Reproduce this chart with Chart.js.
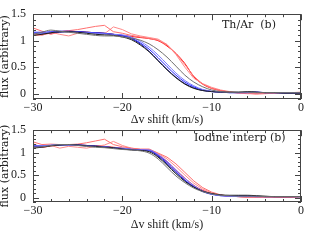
<!DOCTYPE html>
<html>
<head>
<meta charset="utf-8">
<script src="https://cdn.jsdelivr.net/npm/chart.js@4/dist/chart.umd.min.js"></script>
<style>
  html, body { margin: 0; padding: 0; background: #fff; }
  #wrap { position: relative; width: 320px; height: 240px; overflow: hidden; }
  canvas { position: absolute; left: 0; }
  #c1 { top: 0; }
  #c2 { top: 116px; }
</style>
</head>
<body>
<div id="wrap">
  <canvas id="c1" width="320" height="128"></canvas>
  <canvas id="c2" width="320" height="124"></canvas>
</div>
<script>
// velocity grid (km/s)
const velocity = [-30,-29,-28,-27,-26,-25,-24,-23,-22,-21,-20,-19,-18,-17,-16,-15,-14,-13,-12,-11,-10,-9,-8,-7,-6,-5,-4,-3,-2,-1,0];
const xTicks = [-30, -20, -10, 0];
const yTicks = [0, 0.5, 1, 1.5];

// PANEL 1 : Th/Ar
const thArGray     = [1.12,1.16,1.20,1.18,1.16,1.14,1.12,1.10,1.09,1.09,1.07,1.05,1.01,0.94,0.83,0.69,0.52,0.35,0.22,0.13,0.07,0.04,0.03,0.03,0.03,0.02,0.02,0.02,0.02,0.02,0.02];
const thArBlack    = [1.10,1.12,1.15,1.17,1.17,1.16,1.14,1.12,1.11,1.10,1.07,1.02,0.92,0.79,0.62,0.45,0.30,0.18,0.10,0.06,0.04,0.03,0.03,0.03,0.04,0.03,0.02,0.02,0.01,0.01,0.01];
const thArNavy     = [1.14,1.14,1.15,1.16,1.17,1.17,1.16,1.15,1.14,1.12,1.09,1.04,0.94,0.80,0.63,0.46,0.31,0.19,0.11,0.06,0.04,0.03,0.02,0.02,0.03,0.03,0.02,0.02,0.02,0.02,0.02];
const thArBlue     = [1.16,1.16,1.17,1.18,1.18,1.17,1.16,1.15,1.14,1.12,1.10,1.05,0.96,0.84,0.68,0.51,0.35,0.22,0.13,0.07,0.04,0.03,0.02,0.02,0.02,0.03,0.02,0.02,0.01,0.01,0.01];
const thArSky      = [1.13,1.14,1.16,1.17,1.17,1.16,1.15,1.14,1.13,1.12,1.11,1.07,0.99,0.88,0.73,0.56,0.39,0.25,0.15,0.08,0.05,0.03,0.02,0.02,0.02,0.02,0.02,0.02,0.02,0.02,0.02];
const thArRed      = [1.10,1.12,1.14,1.17,1.18,1.17,1.16,1.15,1.14,1.12,1.10,1.08,1.06,1.04,1.00,0.90,0.76,0.57,0.32,0.18,0.10,0.06,0.03,0.02,0.02,0.01,0.01,0.02,0.02,0.02,0.02];
const thArPinkA    = [1.24,1.18,1.12,1.17,1.19,1.21,1.24,1.27,1.29,1.17,1.14,1.10,1.07,1.04,1.01,0.92,0.76,0.55,0.33,0.18,0.10,0.06,0.03,0.01,0.00,0.00,0.01,0.01,0.02,0.02,0.02];
const thArPinkB    = [1.12,1.10,1.16,1.12,1.09,1.14,1.16,1.15,1.13,1.26,1.21,1.13,1.09,1.06,1.03,0.93,0.74,0.50,0.29,0.19,0.12,0.07,0.04,0.02,0.01,-0.01,0.00,0.01,0.02,0.02,0.03];

// PANEL 2 : iodine interp
const iodGray      = [1.12,1.13,1.16,1.18,1.18,1.16,1.14,1.12,1.11,1.09,1.07,1.06,1.04,0.99,0.86,0.67,0.48,0.33,0.21,0.13,0.08,0.05,0.04,0.03,0.03,0.03,0.02,0.02,0.02,0.02,0.02];
const iodBlack     = [1.10,1.12,1.15,1.17,1.18,1.17,1.15,1.14,1.12,1.11,1.08,1.06,1.05,1.02,0.90,0.72,0.53,0.36,0.23,0.14,0.09,0.06,0.05,0.05,0.05,0.04,0.03,0.02,0.02,0.02,0.02];
const iodNavy      = [1.14,1.14,1.16,1.17,1.17,1.17,1.16,1.15,1.13,1.11,1.09,1.07,1.05,1.04,0.92,0.75,0.56,0.38,0.24,0.14,0.08,0.05,0.04,0.04,0.04,0.03,0.02,0.02,0.02,0.02,0.02];
const iodBlue      = [1.16,1.15,1.16,1.17,1.18,1.17,1.16,1.14,1.13,1.11,1.09,1.07,1.06,1.05,0.94,0.78,0.58,0.39,0.24,0.13,0.07,0.04,0.03,0.03,0.03,0.02,0.02,0.02,0.02,0.02,0.02];
const iodSky       = [1.15,1.15,1.17,1.18,1.17,1.16,1.15,1.14,1.13,1.11,1.10,1.08,1.06,1.06,0.96,0.81,0.62,0.43,0.27,0.15,0.08,0.04,0.03,0.02,0.02,0.02,0.02,0.02,0.02,0.02,0.02];
const iodRed       = [1.13,1.12,1.15,1.18,1.18,1.17,1.16,1.15,1.14,1.12,1.10,1.08,1.07,1.06,0.95,0.80,0.61,0.43,0.27,0.16,0.09,0.05,0.03,0.02,0.01,0.01,0.01,0.00,0.00,0.01,0.02];
const iodPinkA     = [1.24,1.18,1.19,1.18,1.18,1.19,1.22,1.26,1.30,1.18,1.13,1.10,1.08,1.08,0.99,0.90,0.75,0.56,0.37,0.22,0.12,0.06,0.03,0.02,0.01,0.01,0.01,0.01,0.00,0.01,0.02];
const iodPinkB     = [1.20,1.12,1.16,1.10,1.14,1.12,1.10,1.14,1.17,1.25,1.16,1.10,1.07,1.07,0.98,0.86,0.69,0.50,0.32,0.19,0.10,0.05,0.03,0.02,0.01,0.01,0.00,0.00,0.01,0.02,0.02];

const font = "Liberation Serif";
const ink = "#222";

function line(data, color, jagged) {
  return {
    data: data,
    borderColor: color,
    borderWidth: 1,
    pointRadius: 0,
    fill: false,
    tension: 0,
    cubicInterpolationMode: jagged ? "default" : "monotone"
  };
}

// box, inward ticks and the panel tag
const frame = {
  id: "frame",
  afterDraw(chart) {
    const { ctx, chartArea: a, scales: { x, y } } = chart;
    ctx.save();
    ctx.strokeStyle = "#444";
    ctx.lineWidth = 1;
    ctx.strokeRect(Math.round(a.left) + 0.5, Math.round(a.top) + 0.5,
      Math.round(a.right - a.left) - 1, Math.round(a.bottom - a.top) - 1);
    ctx.beginPath();
    for (let v = -30; v <= 0; v += 2) {
      const px = Math.round(x.getPixelForValue(v)) + 0.5;
      const len = v % 10 === 0 ? 6 : 3;
      ctx.moveTo(px, a.bottom); ctx.lineTo(px, a.bottom - len);
      ctx.moveTo(px, a.top); ctx.lineTo(px, a.top + len);
    }
    for (let i = -1; i <= 15; i++) {
      const py = Math.round(y.getPixelForValue(i / 10)) + 0.5;
      const len = i % 5 === 0 ? 6 : 3;
      ctx.moveTo(a.left, py); ctx.lineTo(a.left + len, py);
      ctx.moveTo(a.right, py); ctx.lineTo(a.right - len, py);
    }
    ctx.stroke();
    const tag = chart.options.plugins.frame;
    ctx.fillStyle = ink;
    ctx.font = "11px 'DejaVu Serif'";
    ctx.textBaseline = "middle";
    ctx.fillText(tag.text, tag.x, tag.y);
    ctx.restore();
  }
};

function makeChart(id, sets, tag, axisH, titlePad) {
  return new Chart(document.getElementById(id), {
    type: "line",
    data: {
      labels: velocity,
      datasets: sets
    },
    options: {
      responsive: false,
      animation: false,
      layout: { padding: { top: 12, right: 19, left: 0, bottom: 0 } },
      plugins: { legend: { display: false }, tooltip: { enabled: false }, frame: tag },
      scales: {
        x: {
          type: "linear",
          min: -30, max: 0,
          grid: { display: false, drawTicks: false },
          border: { display: false },
          afterFit: s => { s.height = axisH; },
          afterBuildTicks: s => { s.ticks = xTicks.map(v => ({ value: v })); },
          ticks: {
            color: ink, padding: 2, maxRotation: 0,
            font: { family: font, size: 12 },
            callback: v => v < 0 ? "\u2212" + Math.abs(v) : String(v)
          },
          title: {
            display: true, text: "\u0394v shift (km/s)", color: ink,
            font: { family: font, size: 12, lineHeight: 1.1 },
            padding: { top: 0, bottom: titlePad }
          }
        },
        y: {
          min: -0.1, max: 1.5,
          grid: { display: false, drawTicks: false },
          border: { display: false },
          afterFit: s => { s.width = 33; },
          afterBuildTicks: s => { s.ticks = yTicks.map(v => ({ value: v })); },
          ticks: {
            color: ink, padding: 7,
            font: { family: font, size: 12 },
            callback: v => String(v)
          },
          title: {
            display: true, text: "flux (arbitrary)", color: ink,
            font: { family: "DejaVu Serif", size: 11, lineHeight: 1 },
            padding: { top: 0, bottom: 0 }
          }
        }
      }
    },
    plugins: [frame]
  });
}

makeChart("c1", [
  line(thArGray, "#707070"),
  line(thArBlack, "#202020"),
  line(thArSky, "#7a7aff"),
  line(thArBlue, "#2a2aff"),
  line(thArNavy, "#10108a"),
  line(thArPinkA, "#ff7070", true),
  line(thArPinkB, "#ff8a8a", true),
  line(thArRed, "#ff1010")
], { text: "Th/Ar  (b)", x: 222, y: 25 }, 29, 1.5);

makeChart("c2", [
  line(iodGray, "#707070"),
  line(iodBlack, "#202020"),
  line(iodSky, "#7a7aff"),
  line(iodBlue, "#2a2aff"),
  line(iodNavy, "#10108a"),
  line(iodPinkA, "#ff7070", true),
  line(iodPinkB, "#ff8a8a", true),
  line(iodRed, "#ff1010")
], { text: "Iodine interp (b)", x: 194, y: 22 }, 38, 8.5);
</script>
</body>
</html>
